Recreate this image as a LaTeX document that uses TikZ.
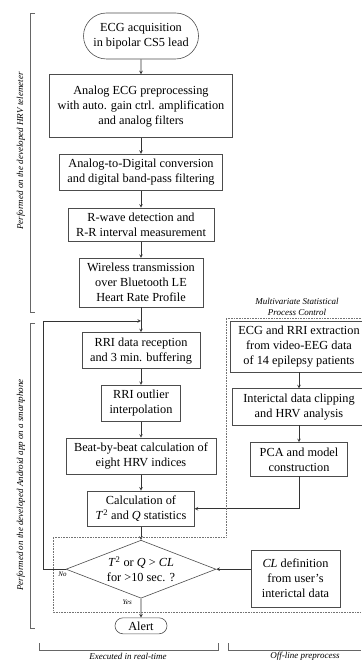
\documentclass[tikz,border=0pt]{standalone}
\usepackage{fontspec}
\setmainfont{Liberation Serif}
\usetikzlibrary{shapes.geometric, shapes.misc, arrows.meta, positioning, calc}

\begin{document}
\begin{tikzpicture}[
        x=1pt, y=-1pt,
        node distance=16pt,
        font=\fontsize{12.3}{15}\selectfont,
        box/.style={rectangle, draw=black!70, line width=0.6pt, align=center, inner xsep=8pt, inner ysep=5pt},
        term/.style={rounded rectangle, draw=black!70, line width=0.6pt, align=center, inner xsep=4pt},
        decision/.style={diamond, aspect=2.6, draw=black!70, line width=0.6pt, align=center, inner sep=0pt, minimum width=150pt, minimum height=58pt},
        arrow/.style={->, >=stealth, line width=0.6pt, draw=black!80},
        region/.style={densely dotted, draw=black!55, line width=0.6pt},
        bracket/.style={draw=black!60, line width=0.6pt},
        note/.style={font=\fontsize{9}{11}\selectfont\itshape, align=center},
        tag/.style={font=\fontsize{7}{8}\selectfont\itshape, inner sep=1pt}
    ]
    \useasboundingbox (0,0) rectangle (361,663);

    % real-time chain
    \node (acq) [term, minimum width=123pt, minimum height=46pt] at (141,36) {ECG acquisition\\in bipolar CS5 lead};
    \node (preproc) [box, minimum height=63pt, below=15pt of acq] {Analog ECG preprocessing\\with auto. gain ctrl. amplification\\and analog filters};
    \node (adc) [box, below=of preproc] {Analog-to-Digital conversion\\and digital band-pass filtering};
    \node (rwave) [box, below=17pt of adc] {R-wave detection and\\R-R interval measurement};
    \node (ble) [box, below=of rwave] {Wireless transmission\\over Bluetooth LE\\Heart Rate Profile};
    \node (recv) [box, below=25pt of ble] {RRI data reception\\and 3 min. buffering};
    \node (outlier) [box, below=of recv] {RRI outlier\\interpolation};
    \node (hrv) [box, below=of outlier] {Beat-by-beat calculation of\\eight HRV indices};
    \node (stats) [box, below=of hrv] {Calculation of\\\textit{T}\textsuperscript{2} and \textit{Q} statistics};
    \node (check) [decision, below=13pt of stats] {\textit{T}\textsuperscript{2} or \textit{Q} > \textit{CL}\\for >10 sec. ?};
    \node (alert) [term, minimum width=60pt, minimum height=16pt, inner ysep=1pt, below=19pt of check] {Alert};

    % off-line chain
    \node (mspc) [note] at (297,307) {Multivariate Statistical\\Process Control};
    \node (extract) [box, minimum width=134pt] at (299,346.5) {ECG and RRI extraction\\from video-EEG data\\of 14 epilepsy patients};
    \node (clip) [box, minimum width=134pt, below=of extract] {Interictal data clipping\\and HRV analysis};
    \node (pca) [box, minimum width=97pt, below=17pt of clip] {PCA and model\\construction};
    \node (cldef) [box, minimum width=89pt, minimum height=57pt] at (295.5,578.5) {\textit{CL} definition\\from user’s\\interictal data};

    \coordinate (join) at ($(ble.south)!0.55!(recv.north)$);

    \draw [arrow] (acq) -- (preproc);
    \draw [arrow] (preproc) -- (adc);
    \draw [arrow] (adc) -- (rwave);
    \draw [arrow] (rwave) -- (ble);
    \draw [arrow] (ble) -- (recv);
    \draw [arrow] (recv) -- (outlier);
    \draw [arrow] (outlier) -- (hrv);
    \draw [arrow] (hrv) -- (stats);
    \draw [arrow] (stats) -- (check);
    \draw [arrow] (check) -- (alert);
    \draw [arrow] (check.west) -- ++(-22,0) |- (join);
    \draw [arrow] (extract) -- (clip);
    \draw [arrow] (clip) -- (pca);
    \draw [arrow] (pca.south) |- (stats.east);
    \draw [arrow] (cldef.west |- check.east) -- (check.east);

    \node (no) [tag, anchor=north east] at ([xshift=2pt, yshift=-2pt]check.west) {No};
    \node (yes) [tag, anchor=north east] at ([xshift=-8pt]check.south) {Yes};

    % dotted MSPC area
    \draw [region] (361,318) -- (226,318) -- (226,537) -- (53,537) -- (53,612) -- (361,612);

    % brackets
    \draw [bracket] (35,13) -- (30,13) -- (30,312) -- (35,312);
    \node (lblhrv) [note, rotate=90] at (21,151) {Performed on the developed HRV telemeter};
    \draw [bracket] (35,323) -- (30,323) -- (30,628) -- (35,628);
    \node (lblapp) [note, rotate=90] at (21,485) {Performed on the developed Android app on a smartphone};
    \draw [bracket] (39,643) -- (39,650) -- (218,650) -- (218,643);
    \node (lblrt) [note] at (128,656) {Executed in real-time};
    \draw [bracket] (228,643) -- (228,650) -- (361,650);
    \node (lbloff) [note] at (305,656) {Off-line preprocess};

\end{tikzpicture}
\end{document}
